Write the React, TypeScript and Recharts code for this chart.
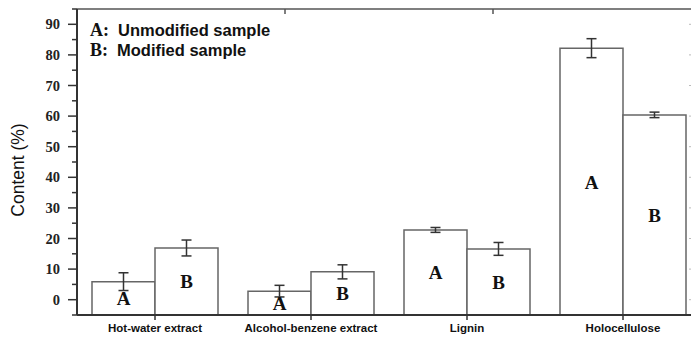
import { BarChart, Bar, XAxis, YAxis, ErrorBar, LabelList } from 'recharts';

// values (%)
const categories = ['Hot-water extract', 'Alcohol-benzene extract', 'Lignin', 'Holocellulose'];
const unmodified = [5.9, 2.8, 22.8, 82.2];
const unmodifiedErr = [2.9, 1.9, 0.8, 3.1];
const modified = [16.9, 9.1, 16.6, 60.4];
const modifiedErr = [2.6, 2.3, 2.1, 0.9];

const yDomain = [-5, 95];
const yTicks = [-5, 0, 5, 10, 15, 20, 25, 30, 35, 40, 45, 50, 55, 60, 65, 70, 75, 80, 85, 90, 95];
const yLabelled = [0, 10, 20, 30, 40, 50, 60, 70, 80, 90];
const topTicks = [1, 2, 3, 4, 5, 6, 7, 8, 9];

const data = categories.map((name, i) => ({
  name,
  a: unmodified[i],
  aErr: unmodifiedErr[i],
  b: modified[i],
  bErr: modifiedErr[i],
}));

const AXIS = '#333';
const BAR_STROKE = '#666';

const noLabel = () => <g />;

function LeftTick(props: any) {
  const { x, y, payload } = props;
  const v = payload.value;
  const major = yLabelled.includes(v);
  return (
    <g>
      <line x1={x - (major ? 9 : 5)} x2={x} y1={y} y2={y} stroke={AXIS} strokeWidth={1.5} />
      {major && (
        <text
          x={x - 17}
          y={y + 5}
          textAnchor="end"
          fontFamily="Liberation Serif"
          fontWeight="bold"
          fontSize={14.5}
          fill="#222"
        >
          {v}
        </text>
      )}
    </g>
  );
}

function barLetter(letter: string) {
  return (p: any) => (
    <text
      x={p.x + p.width / 2}
      y={p.y + p.height / 2 + 7}
      textAnchor="middle"
      fontFamily="Liberation Serif"
      fontWeight="bold"
      fontSize={19}
      fill="#111"
    >
      {letter}
    </text>
  );
}

export default function App() {
  return (
    <div style={{ position: 'absolute', left: 0, top: 0, width: 691, height: 337, overflow: 'hidden', background: '#fff' }}>
      <BarChart
        width={702}
        height={337}
        data={data}
        margin={{ top: 0, right: 0, left: 0, bottom: 0 }}
        barCategoryGap={15}
        barGap={0}
      >
        <XAxis
          dataKey="name"
          height={22}
          tickSize={5}
          tickMargin={4}
          axisLine={{ stroke: AXIS, strokeWidth: 2 }}
          tickLine={{ stroke: AXIS, strokeWidth: 1.5 }}
          tick={{ fontFamily: 'Liberation Sans', fontWeight: 'bold', fontSize: 11.5, fill: '#111' }}
          interval={0}
        />
        <XAxis
          xAxisId="top"
          orientation="top"
          type="number"
          domain={[0, 10]}
          allowDataOverflow
          ticks={topTicks}
          interval={0}
          height={9}
          tickSize={-5}
          tickMargin={0}
          tick={noLabel}
          axisLine={{ stroke: '#555', strokeWidth: 1.5 }}
          tickLine={{ stroke: '#555', strokeWidth: 1.5 }}
        />
        <YAxis
          domain={yDomain}
          ticks={yTicks}
          width={77}
          tickSize={0}
          tickMargin={0}
          tickLine={false}
          axisLine={{ stroke: AXIS, strokeWidth: 2 }}
          tick={<LeftTick />}
          interval={0}
        />
        <YAxis
          yAxisId="r"
          orientation="right"
          domain={yDomain}
          allowDataOverflow
          ticks={yLabelled}
          interval={0}
          width={1}
          tickSize={-12}
          tickMargin={0}
          tick={noLabel}
          axisLine={{ stroke: '#999' }}
          tickLine={{ stroke: '#bbb' }}
        />
        <Bar
          dataKey={(d: any) => [yDomain[0], d.a]}
          fill="#fff"
          stroke={BAR_STROKE}
          strokeWidth={1.5}
          isAnimationActive={false}
        >
          <ErrorBar dataKey="aErr" width={5} stroke={AXIS} strokeWidth={1.5} direction="y" />
          <LabelList content={barLetter('A')} />
        </Bar>
        <Bar
          dataKey={(d: any) => [yDomain[0], d.b]}
          fill="#fff"
          stroke={BAR_STROKE}
          strokeWidth={1.5}
          isAnimationActive={false}
        >
          <ErrorBar dataKey="bErr" width={5} stroke={AXIS} strokeWidth={1.5} direction="y" />
          <LabelList content={barLetter('B')} />
        </Bar>
      </BarChart>
      <svg width={691} height={337} style={{ position: 'absolute', left: 0, top: 0, pointerEvents: 'none' }}>
        <text x={90} y={36} fill="#111">
          <tspan fontFamily="Liberation Serif" fontWeight="bold" fontSize={18}>A:</tspan>
          <tspan x={118} fontFamily="Liberation Sans" fontWeight="bold" fontSize={16.5}>Unmodified sample</tspan>
        </text>
        <text x={90} y={56} fill="#111">
          <tspan fontFamily="Liberation Serif" fontWeight="bold" fontSize={18}>B:</tspan>
          <tspan x={117} fontFamily="Liberation Sans" fontWeight="bold" fontSize={16.5}>Modified sample</tspan>
        </text>
        <text
          transform="rotate(-90)"
          x={-170}
          y={24}
          textAnchor="middle"
          fontFamily="Liberation Sans"
          fontSize={17.5}
          fill="#111"
        >
          Content (%)
        </text>
      </svg>
    </div>
  );
}
